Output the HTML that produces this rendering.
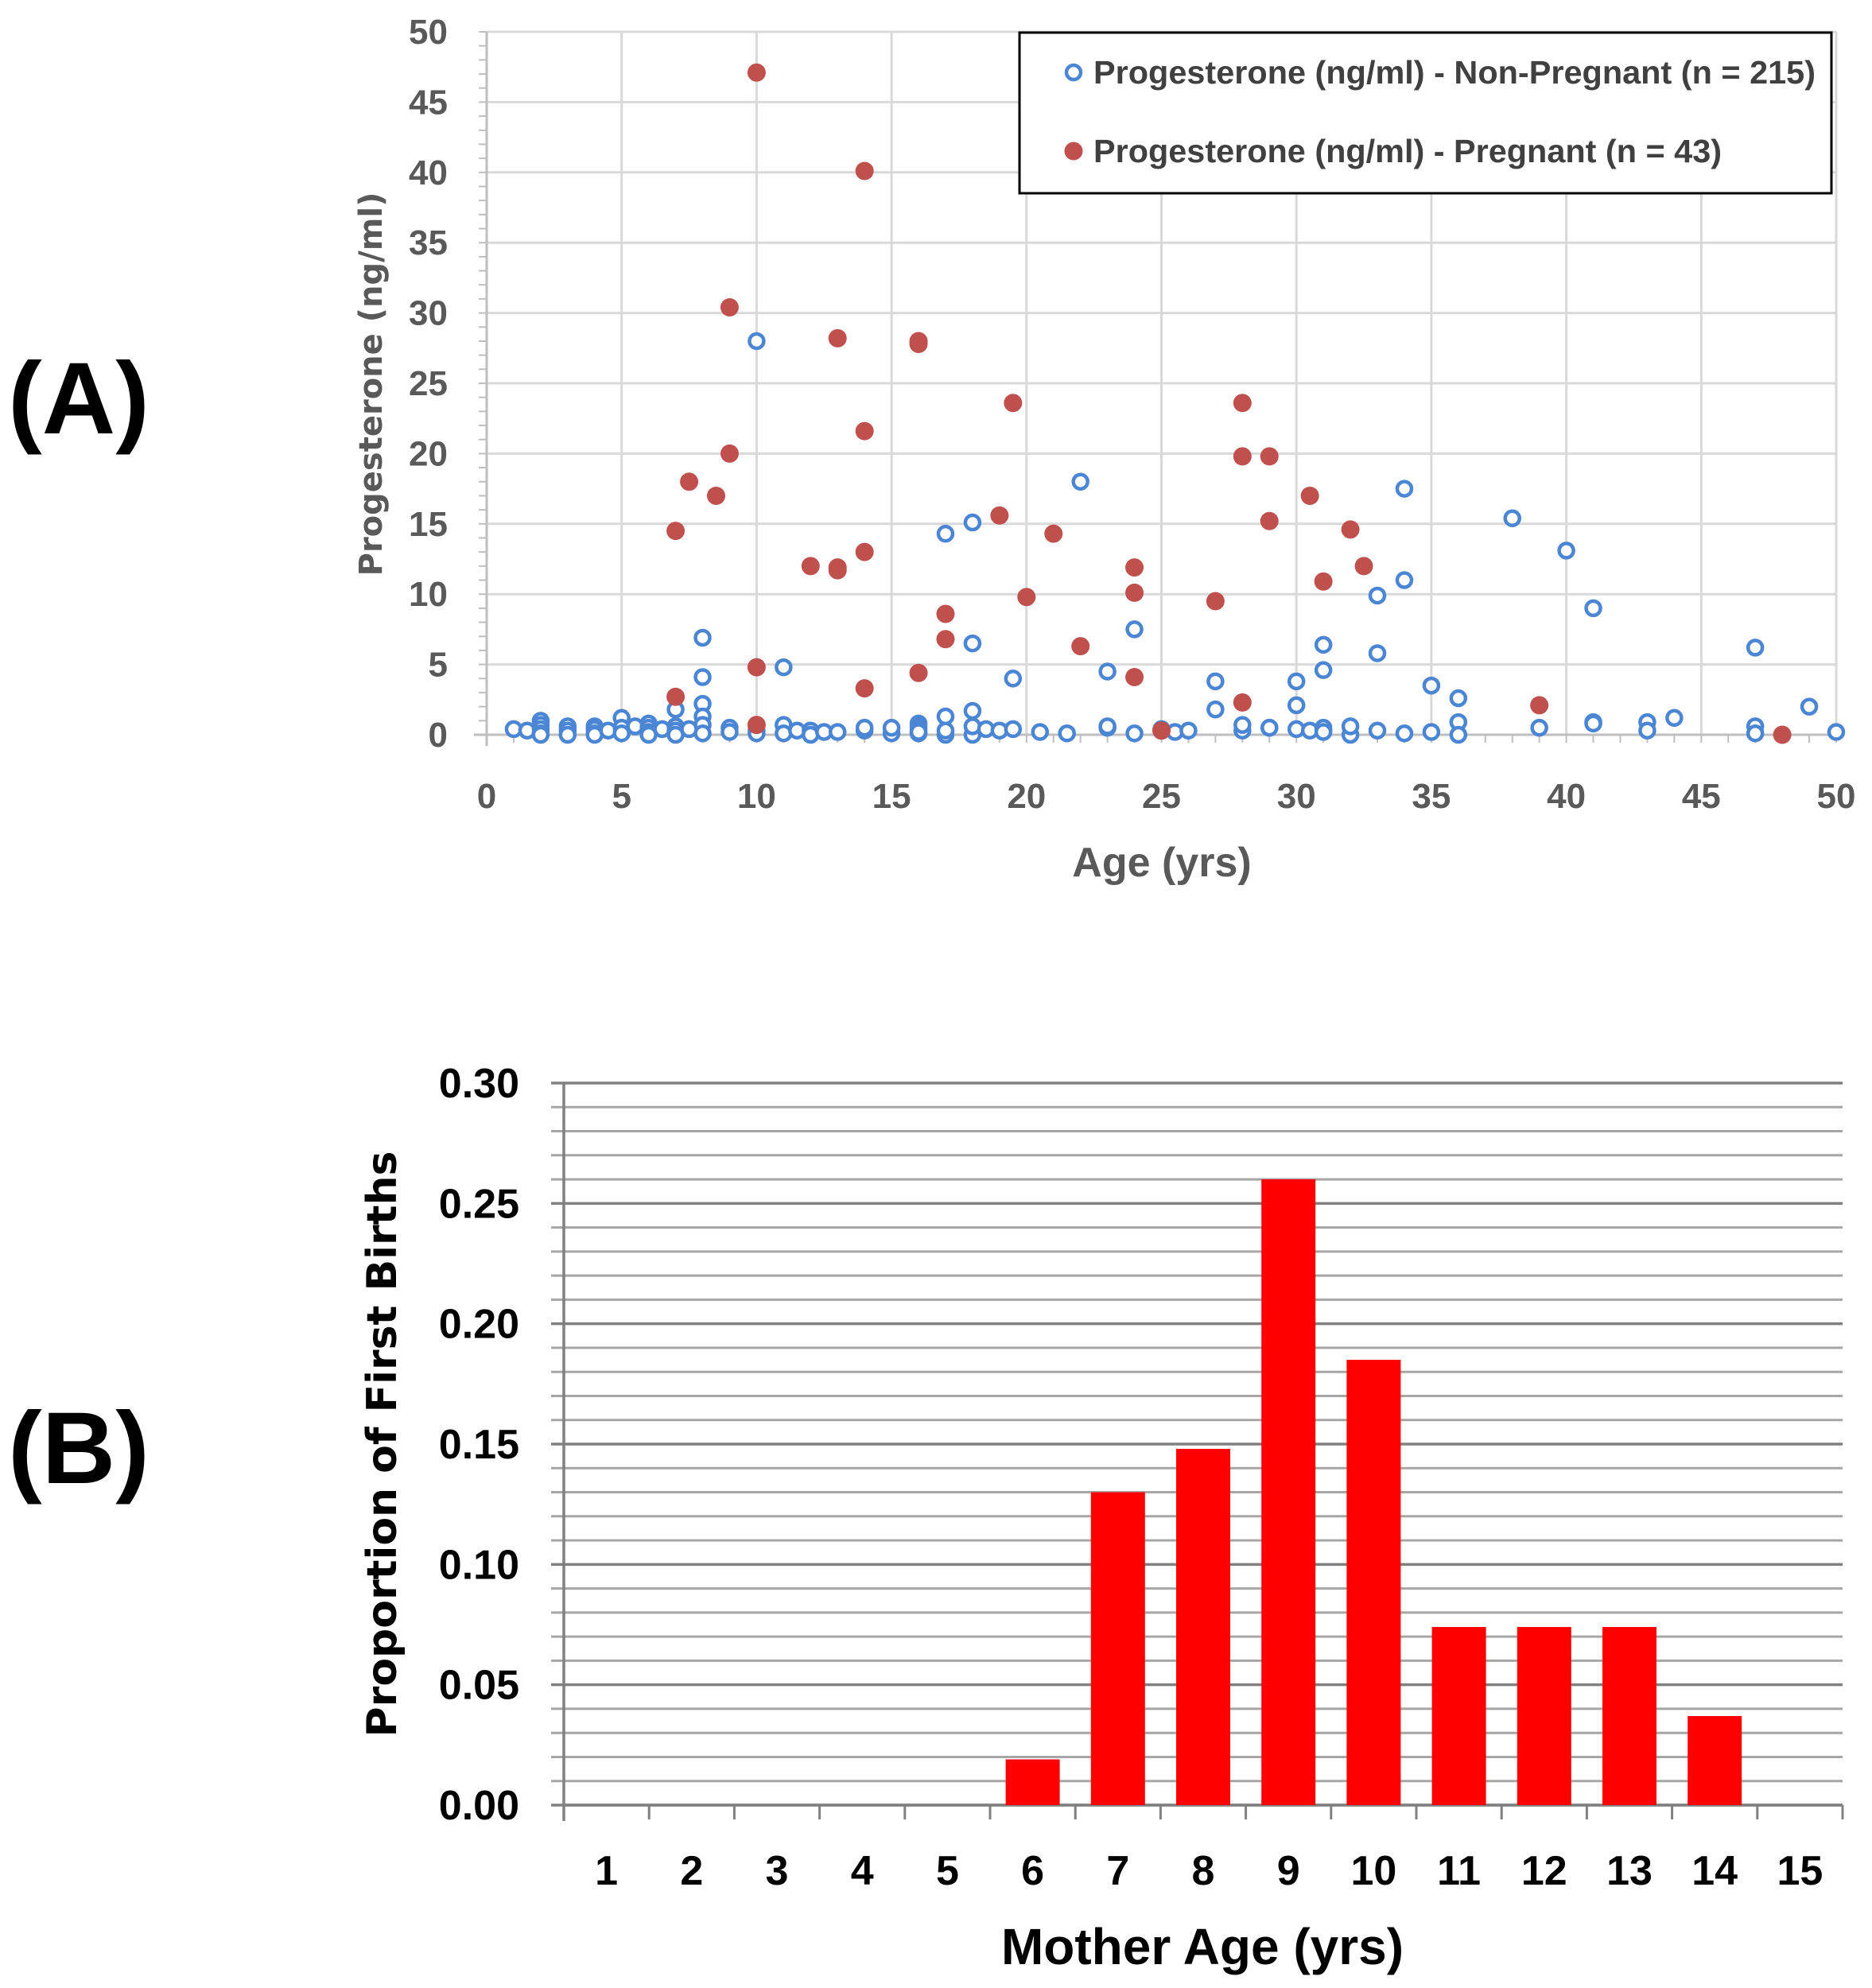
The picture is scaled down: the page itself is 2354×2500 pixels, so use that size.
<!DOCTYPE html>
<html><head><meta charset="utf-8"><style>
html,body{margin:0;padding:0;background:#fff;}
svg{display:block;}
</style></head><body>
<svg id="fig" xmlns="http://www.w3.org/2000/svg" width="2354" height="2500" viewBox="0 0 2354 2500">
<text x="99" y="545" text-anchor="middle" font-family="'Liberation Sans',sans-serif" font-weight="bold" font-size="128" fill="#000">(A)</text>
<text x="99" y="1865" text-anchor="middle" font-family="'Liberation Sans',sans-serif" font-weight="bold" font-size="128" fill="#000">(B)</text>
<g id="chartA"></g>
<g id="chartB"></g>
</svg>
<script>
// ---- Chart A data ----
const pregX = [7,7,7.5,8.5,9,9,10,10,10,12,13,13,13,14,14,14,14,16,16,16,17,17,19,19.5,20,21,22,24,24,24,25,27,28,28,28,29,29,30.5,31,32,32.5,39,48];
const pregY = [2.7,14.5,18,17,20,30.4,47.1,4.8,0.7,12,28.2,11.7,11.9,40.1,21.6,13,3.3,27.8,28,4.4,8.6,6.8,15.6,23.6,9.8,14.3,6.3,11.9,10.1,4.1,0.3,9.5,23.6,19.8,2.3,19.8,15.2,17,10.9,14.6,12,2.1,0];
const nonX = [10,22,34,38,18,17,40,34,33,41,24,8,18,31,47,33,11,31,23,8,19.5,27,30,35,36,8,30,49,27,18,7,17,44,5,36,43,
 1,1.5,2,2,2,2,2,3,3,3,4,4,4,4,4.5,5,5,5.5,6,6,6,6,6.5,7,7,7,7.5,8,8,8,9,9,10,10,11,11,11.5,12,12,12.5,13,14,14,15,15,16,16,16,16,16,17,17,18,18,18.5,19,19.5,20.5,21.5,23,23,24,25,25.5,26,28,28,29,29,30,30.5,31,31,31,32,32,33,34,35,36,39,41,41,43,47,47,50];
const nonY = [28,18,17.5,15.4,15.1,14.3,13.1,11,9.9,9,7.5,6.9,6.5,6.4,6.2,5.8,4.8,4.6,4.5,4.1,4,3.8,3.8,3.5,2.6,2.2,2.1,2,1.8,1.7,1.8,1.3,1.2,1.2,0.9,0.9,
 0.4,0.3,1.0,0.7,0.4,0.1,0.0,0.6,0.3,0.0,0.6,0.4,0.1,0.0,0.3,0.5,0.1,0.6,0.8,0.5,0.2,0.0,0.4,0.6,0.3,0.0,0.4,1.3,0.7,0.1,0.5,0.2,0.3,0.1,0.7,0.1,0.3,0.3,0.0,0.2,0.2,0.3,0.5,0.1,0.5,0.1,0.8,0.6,0.4,0.2,0.0,0.3,0.0,0.6,0.4,0.3,0.4,0.2,0.1,0.5,0.6,0.1,0.4,0.2,0.3,0.3,0.7,0.5,0.5,0.4,0.3,0.3,0.5,0.2,0.0,0.6,0.3,0.1,0.2,0.0,0.5,0.9,0.8,0.3,0.6,0.1,0.2,0.0];
const xTicksA = [0,5,10,15,20,25,30,35,40,45,50];
const yTicksA = [0,5,10,15,20,25,30,35,40,45,50];
// ---- Chart B data ----
const ageCats = ["1","2","3","4","5","6","7","8","9","10","11","12","13","14","15"];
const births = [0,0,0,0,0,0.019,0.130,0.148,0.260,0.185,0.074,0.074,0.074,0.037,0];
const yTicksB = ["0.00","0.05","0.10","0.15","0.20","0.25","0.30"];

const NS="http://www.w3.org/2000/svg";
function mk(parent, tag, attrs, text){const e=document.createElementNS(NS,tag);for(const k in attrs)e.setAttribute(k,attrs[k]);if(text!==undefined)e.textContent=text;parent.appendChild(e);return e;}

// ---- Chart A ----
const A=document.getElementById('chartA');
const ax0=612, ax1=2309, ay0=924, ay1=40;
const sxA=v=>ax0+(v-0)/50*(ax1-ax0);
const syA=v=>ay0-(v-0)/50*(ay0-ay1);
for(const t of xTicksA){ if(t>0){const l=mk(A,'line',{x1:sxA(t),x2:sxA(t),y1:ay1,y2:ay0,stroke:'#d9d9d9','stroke-width':3});

}}
for(const t of yTicksA){ if(t>0){const l=mk(A,'line',{x1:ax0,x2:ax1,y1:syA(t),y2:syA(t),stroke:'#d9d9d9','stroke-width':3});

}}
for(let v=0;v<=50;v++){const m=mk(A,'line',{x1:ax0-10,x2:ax0,y1:syA(v),y2:syA(v),stroke:'#bfbfbf','stroke-width':2});


const n=mk(A,'line',{x1:sxA(v),x2:sxA(v),y1:ay0,y2:ay0+10,stroke:'#bfbfbf','stroke-width':2});

}
const axA=mk(A,'path',{d:`M${ax0} ${ay1} V${ay0+14} M${ax0-16} ${ay0} H${ax1}`,stroke:'#bfbfbf','stroke-width':3,fill:'none'});


for(const t of yTicksA){const e=mk(A,'text',{x:563,y:syA(t)+15,'text-anchor':'end','font-family':"'Liberation Sans',sans-serif",'font-weight':'bold','font-size':44,fill:'#595959'},String(t));

}
for(const t of xTicksA){const e=mk(A,'text',{x:sxA(t),y:1016,'text-anchor':'middle','font-family':"'Liberation Sans',sans-serif",'font-weight':'bold','font-size':44,fill:'#595959'},String(t));

}
const xtA=mk(A,'text',{x:1461,y:1102,'text-anchor':'middle','font-family':"'Liberation Sans',sans-serif",'font-weight':'bold','font-size':52,fill:'#595959'},'Age (yrs)');


const ytA=mk(A,'text',{x:0,y:0,transform:'translate(480,483) rotate(-90)','text-anchor':'middle','font-family':"'DejaVu Sans',sans-serif",'font-weight':'bold','font-size':40,fill:'#595959'},'Progesterone (ng/ml)');


for(let i=0;i<nonX.length;i++){const c=mk(A,'circle',{cx:sxA(nonX[i]),cy:syA(nonY[i]),r:9,fill:'#fff',stroke:'#4a86d4','stroke-width':4.5});

}
for(let i=0;i<pregX.length;i++){const c=mk(A,'circle',{cx:sxA(pregX[i]),cy:syA(pregY[i]),r:11.5,fill:'#c0504d'});

}
// legend
const lg=mk(A,'g',{});


mk(lg,'rect',{x:1282,y:41,width:1021,height:202,fill:'#fff',stroke:'#000','stroke-width':3});
const l1=mk(lg,'circle',{cx:1350,cy:91,r:9,fill:'#fff',stroke:'#4a86d4','stroke-width':4.5});


const t1=mk(lg,'text',{x:1375,y:105,'font-family':"'Liberation Sans',sans-serif",'font-weight':'bold','font-size':41,fill:'#404040','textLength':908,'lengthAdjust':'spacingAndGlyphs'},'Progesterone (ng/ml) - Non-Pregnant (n = 215)');


const l2=mk(lg,'circle',{cx:1350,cy:190,r:11.5,fill:'#c0504d'});


const t2=mk(lg,'text',{x:1375,y:204,'font-family':"'Liberation Sans',sans-serif",'font-weight':'bold','font-size':41,fill:'#404040','textLength':790,'lengthAdjust':'spacingAndGlyphs'},'Progesterone (ng/ml) - Pregnant (n = 43)');



// ---- Chart B ----
const B=document.getElementById('chartB');
const bx0=709, bx1=2317, by0=2270, by1=1362;
const syB=v=>by0-v/0.30*(by0-by1);
const band=(bx1-bx0)/ageCats.length;
for(let k=0;k<=30;k++){const v=k/100;const major=k%5===0;
const g=mk(B,'line',{x1:bx0-16,x2:bx1,y1:syB(v),y2:syB(v),stroke:major?'#808080':'#a6a6a6','stroke-width':major?3.5:3});

}
const axB=mk(B,'path',{d:`M${bx0} ${by1} V${by0+20} M${bx0} ${by0} H${bx1}`,stroke:'#808080','stroke-width':3.5,fill:'none'});


for(let i=0;i<=ageCats.length;i++){const t=mk(B,'line',{x1:bx0+i*band,x2:bx0+i*band,y1:by0,y2:by0+18,stroke:'#808080','stroke-width':3});

}
for(let i=0;i<ageCats.length;i++){
 const cx=bx0+(i+0.5)*band;
 if(births[i]>0){const r=mk(B,'rect',{x:cx-34,y:syB(births[i]),width:68,height:by0-syB(births[i]),fill:'#ff0000'});
 
 }
 const e=mk(B,'text',{x:cx,y:2370,'text-anchor':'middle','font-family':"'Liberation Sans',sans-serif",'font-weight':'bold','font-size':52,fill:'#000'},ageCats[i]);
 
 
}
for(let i=0;i<yTicksB.length;i++){const e=mk(B,'text',{x:653,y:syB(parseFloat(yTicksB[i]))+18,'text-anchor':'end','font-family':"'Liberation Sans',sans-serif",'font-weight':'bold','font-size':52,fill:'#000'},yTicksB[i]);

}
const xtB=mk(B,'text',{x:1512,y:2470,'text-anchor':'middle','font-family':"'Liberation Sans',sans-serif",'font-weight':'bold','font-size':64,fill:'#000'},'Mother Age (yrs)');


const ytB=mk(B,'text',{x:0,y:0,transform:'translate(498,1816) rotate(-90)','text-anchor':'middle','font-family':"'DejaVu Sans',sans-serif",'font-weight':'bold','font-size':52,fill:'#000'},'Proportion of First Births');


</script>
</body></html>
